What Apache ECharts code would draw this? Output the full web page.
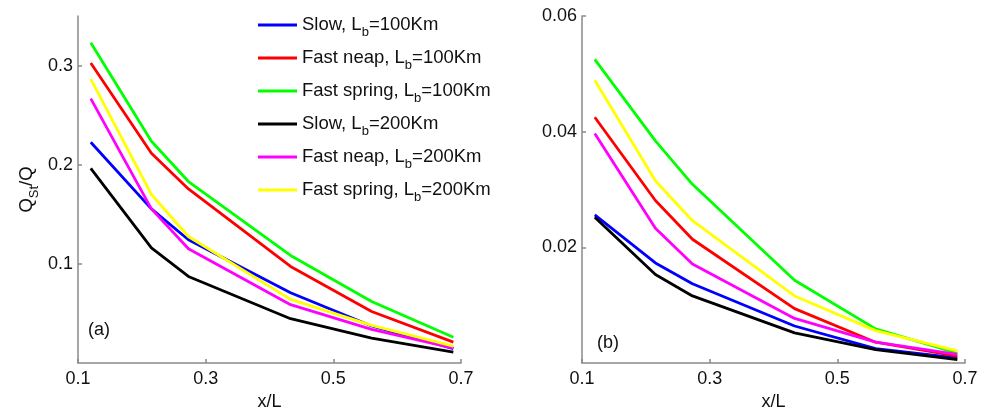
<!DOCTYPE html>
<html>
<head>
<meta charset="utf-8">
<script src="https://cdn.jsdelivr.net/npm/echarts@6/dist/echarts.min.js"></script>
<style>
html,body{margin:0;padding:0;background:#fff;}
#chart{width:986px;height:410px;}
</style>
</head>
<body>
<div id="chart"></div>
<script>
// x positions (x/L)
var xPos = [0.12, 0.215, 0.273, 0.433, 0.56, 0.688];

// series names
var seriesNames = [
  'Slow, Lb=100Km',
  'Fast neap, Lb=100Km',
  'Fast spring, Lb=100Km',
  'Slow, Lb=200Km',
  'Fast neap, Lb=200Km',
  'Fast spring, Lb=200Km'
];
var seriesColors = ['#0000ff', '#ff0000', '#00ff00', '#000000', '#ff00ff', '#ffff00'];

// panel (a) values
var aSlow100   = [0.2226, 0.1555, 0.1243, 0.0709, 0.0373, 0.0145];
var aNeap100   = [0.3025, 0.2115, 0.1756, 0.0974, 0.0520, 0.0210];
var aSpring100 = [0.3230, 0.2236, 0.1830, 0.1085, 0.0620, 0.0260];
var aSlow200   = [0.1964, 0.1162, 0.0873, 0.0447, 0.0252, 0.0110];
var aNeap200   = [0.2666, 0.1555, 0.1152, 0.0588, 0.0340, 0.0150];
var aSpring200 = [0.2864, 0.1700, 0.1276, 0.0642, 0.0380, 0.0170];

// panel (b) values
var bSlow100   = [0.0256, 0.0173, 0.0137, 0.0064, 0.0025, 0.0009];
var bNeap100   = [0.0425, 0.0281, 0.0214, 0.0094, 0.0036, 0.0012];
var bSpring100 = [0.0525, 0.0384, 0.0309, 0.0143, 0.0059, 0.0017];
var bSlow200   = [0.0252, 0.0153, 0.0116, 0.0052, 0.0023, 0.0006];
var bNeap200   = [0.0397, 0.0233, 0.0171, 0.0077, 0.0036, 0.0015];
var bSpring200 = [0.0489, 0.0315, 0.0246, 0.0116, 0.0056, 0.0021];

// tick labels
var xTicks = [0.1, 0.3, 0.5, 0.7];
var aYTicks = [0.1, 0.2, 0.3];
var bYTicks = [0.02, 0.04, 0.06];

var panelA = [aSlow100, aNeap100, aSpring100, aSlow200, aNeap200, aSpring200];
var panelB = [bSlow100, bNeap100, bSpring100, bSlow200, bNeap200, bSpring200];

var FONT = '"Liberation Sans", Arial, Helvetica, sans-serif';
var AXIS_COLOR = '#8a8a8a';
var TEXT_COLOR = '#111';

var richSub = {
  m: {fontSize: 18.5, fontFamily: FONT, color: TEXT_COLOR, lineHeight: 20, verticalAlign: 'top'},
  s: {fontSize: 13, fontFamily: FONT, color: TEXT_COLOR, lineHeight: 13, padding: [11, 0, 0, 0], verticalAlign: 'top'}
};

function pairs(ys) {
  return xPos.map(function (x, i) { return [x, ys[i]]; });
}

function makeXAxis(gridIndex) {
  return {
    type: 'value', gridIndex: gridIndex, min: 0.1, max: 0.7,
    name: 'x/L', nameLocation: 'middle', nameGap: 25,
    nameTextStyle: {fontSize: 18, fontFamily: FONT, color: TEXT_COLOR},
    axisLine: {show: true, lineStyle: {color: AXIS_COLOR, width: 1.5}},
    axisTick: {show: true, inside: true, length: 4, lineStyle: {color: AXIS_COLOR, width: 1.5}, customValues: xTicks},
    axisLabel: {fontSize: 18, fontFamily: FONT, color: TEXT_COLOR, margin: 7, customValues: xTicks,
      formatter: function (v) { return v.toFixed(1); }},
    splitLine: {show: false}
  };
}

function makeYAxis(gridIndex, max, ticks, digits) {
  return {
    type: 'value', gridIndex: gridIndex, min: 0, max: max,
    axisLine: {show: true, lineStyle: {color: AXIS_COLOR, width: 1.5}},
    axisTick: {show: true, inside: true, length: 4, lineStyle: {color: AXIS_COLOR, width: 1.5}, customValues: ticks},
    axisLabel: {fontSize: 18, fontFamily: FONT, color: TEXT_COLOR, margin: 5, customValues: ticks,
      formatter: function (v) { return v.toFixed(digits); }},
    splitLine: {show: false}
  };
}

var series = [];
[panelA, panelB].forEach(function (panel, p) {
  panel.forEach(function (ys, i) {
    series.push({
      type: 'line', name: seriesNames[i], xAxisIndex: p, yAxisIndex: p,
      data: pairs(ys), showSymbol: false, symbol: 'none',
      lineStyle: {color: seriesColors[i], width: 2.8},
      itemStyle: {color: seriesColors[i]},
      animation: false, z: 2 + i
    });
  });
});

var yA = makeYAxis(0, 0.35, aYTicks, 1);
yA.name = '{m|Q}{s|St}{m|/Q}';
yA.nameLocation = 'middle';
yA.nameRotate = 90;
yA.nameGap = 41;
yA.nameTextStyle = {rich: richSub};

var option = {
  backgroundColor: '#fff',
  animation: false,
  grid: [
    {left: 78, top: 16, width: 383, height: 347, containLabel: false, outerBoundsMode: 'none'},
    {left: 582, top: 16, width: 383, height: 347, containLabel: false, outerBoundsMode: 'none'}
  ],
  xAxis: [makeXAxis(0), makeXAxis(1)],
  yAxis: [yA, makeYAxis(1, 0.06, bYTicks, 2)],
  legend: {
    orient: 'vertical', left: 258, top: 15, padding: 0, itemGap: 9,
    itemWidth: 39, itemHeight: 3, icon: 'rect',
    data: seriesNames,
    formatter: function (name) {
      var parts = name.split(', Lb');
      return '{m|' + parts[0] + ', L}{s|b}{m|' + parts[1] + '}';
    },
    textStyle: {rich: richSub},
    selectedMode: false
  },
  graphic: [
    {type: 'text', left: 88, top: 321, style: {text: '(a)', fontSize: 18, fontFamily: FONT, fill: TEXT_COLOR}},
    {type: 'text', left: 597, top: 334, style: {text: '(b)', fontSize: 18, fontFamily: FONT, fill: TEXT_COLOR}}
  ],
  series: series
};

var chart = echarts.init(document.getElementById('chart'), null, {renderer: 'canvas'});
chart.setOption(option);
</script>
</body>
</html>
